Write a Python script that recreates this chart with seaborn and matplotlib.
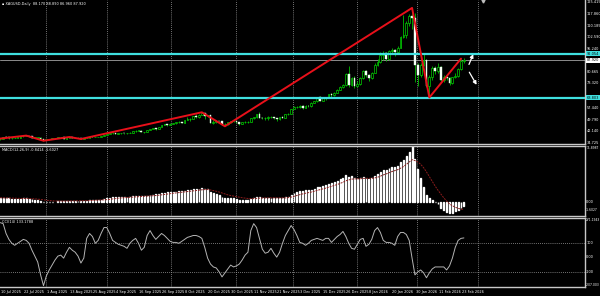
import matplotlib
matplotlib.use("Agg")
import matplotlib.pyplot as plt
import matplotlib.transforms as mtransforms
import numpy as np
import pandas as pd
import seaborn as sns

# ---------------- data ----------------
first_open = 37.0
close = [37.45, 38.40, 38.35, 37.75, 37.95, 38.15, 38.20, 38.95, 39.25, 39.30,
         39.00, 38.15, 38.15, 38.20, 37.10, 36.65, 37.05, 37.40, 37.80, 37.80,
         38.30, 38.30, 37.60, 37.95, 38.50, 38.00, 38.00, 38.10, 37.40, 38.00,
         38.20, 38.90, 38.60, 38.60, 38.60, 39.10, 39.70, 40.70, 40.90, 41.20,
         40.70, 41.00, 41.10, 40.90, 41.10, 41.30, 42.20, 42.60, 42.70, 41.70,
         41.70, 42.90, 43.90, 44.00, 43.90, 45.20, 46.40, 46.90, 46.40, 47.20,
         47.40, 48.00, 48.50, 47.90, 49.40, 50.00, 50.10, 52.20, 51.20, 53.00,
         54.10, 51.90, 52.50, 47.80, 48.50, 48.90, 48.60, 46.90, 47.00, 48.00,
         48.90, 48.70, 48.00, 46.90, 48.10, 48.10, 48.30, 50.50, 51.20, 53.40,
         50.90, 50.60, 50.90, 51.30, 51.50, 50.50, 50.00, 51.20, 51.10, 53.40,
         53.60, 56.40, 57.90, 58.00, 58.70, 57.20, 58.40, 58.30, 60.70, 61.50,
         64.20, 62.00, 63.90, 63.70, 66.00, 65.50, 67.10, 69.00, 71.00, 71.80,
         79.00, 72.00, 76.50, 71.50, 72.80, 76.50, 81.00, 78.30, 76.50, 79.80,
         85.00, 86.90, 91.50, 92.50, 88.50, 94.00, 94.70, 93.00, 96.00, 103.00,
         104.00, 112.00, 116.50, 115.00, 85.00, 78.50, 85.00, 87.80, 71.50, 77.50,
         83.00, 80.80, 83.60, 75.20, 77.50, 76.50, 73.50, 77.00, 78.00, 82.50,
         87.50, 87.90]
high = [37.6, 38.5, 39.1, 38.5, 38.1, 38.3, 38.4, 39.1, 39.4, 39.5,
        39.4, 39.0, 38.4, 38.4, 38.3, 37.2, 37.2, 37.5, 38.0, 38.0,
        38.5, 38.5, 38.4, 38.1, 38.6, 38.5, 38.2, 38.3, 38.2, 38.1,
        38.3, 39.0, 39.1, 38.8, 38.8, 39.2, 39.8, 40.8, 41.0, 41.5,
        41.3, 41.3, 41.3, 41.2, 41.3, 41.7, 42.3, 42.8, 42.9, 42.9,
        42.0, 43.0, 44.0, 44.4, 44.5, 45.3, 46.5, 47.1, 47.0, 47.4,
        47.7, 48.1, 48.7, 48.5, 49.6, 51.2, 51.0, 52.4, 53.6, 53.3,
        54.5, 54.3, 52.8, 52.6, 49.3, 49.8, 49.0, 48.7, 47.3, 48.5,
        49.2, 49.4, 48.9, 48.1, 48.3, 48.6, 48.7, 50.6, 51.5, 53.6,
        54.4, 51.6, 51.2, 51.8, 52.0, 51.6, 50.8, 51.4, 51.8, 53.6,
        54.0, 56.5, 58.8, 58.8, 59.0, 58.9, 59.3, 58.9, 60.9, 62.0,
        64.3, 65.0, 64.2, 64.5, 66.5, 67.0, 67.3, 69.5, 71.4, 72.7,
        79.5, 84.0, 77.5, 78.0, 74.5, 77.0, 81.8, 82.0, 79.0, 80.2,
        86.0, 89.0, 93.5, 93.6, 93.0, 94.7, 95.9, 95.5, 97.0, 103.5,
        117.0, 113.0, 117.8, 121.6, 118.5, 86.5, 86.5, 92.0, 88.5, 78.5,
        84.0, 84.5, 86.0, 84.5, 78.5, 77.8, 77.0, 77.5, 80.0, 83.0,
        89.0, 89.5]
low = [36.9, 37.4, 38.1, 37.6, 37.5, 37.8, 37.9, 38.1, 38.8, 39.0,
       38.8, 38.0, 37.9, 37.8, 37.0, 36.2, 36.5, 36.9, 37.3, 37.5,
       37.7, 38.0, 37.5, 37.5, 37.9, 37.9, 37.8, 37.8, 37.3, 37.3,
       37.9, 38.1, 38.5, 38.3, 38.4, 38.5, 39.0, 39.6, 40.5, 40.8,
       40.5, 40.6, 40.8, 40.7, 40.8, 41.0, 41.2, 42.1, 42.3, 41.5,
       41.3, 41.6, 42.8, 43.6, 43.3, 43.8, 45.0, 46.2, 45.8, 46.3,
       46.8, 47.2, 47.8, 47.6, 47.9, 49.3, 49.0, 50.0, 50.5, 51.1,
       52.8, 50.2, 51.6, 47.3, 46.9, 47.8, 47.9, 46.3, 45.5, 46.5,
       47.7, 48.2, 47.6, 46.3, 46.8, 47.7, 47.5, 48.2, 50.0, 50.8,
       50.5, 50.0, 49.8, 49.8, 50.8, 50.2, 48.6, 49.6, 50.5, 51.0,
       53.0, 53.5, 56.3, 57.0, 57.5, 56.5, 57.0, 57.6, 58.0, 60.5,
       61.3, 61.5, 61.8, 62.5, 63.5, 64.5, 65.0, 67.0, 68.8, 70.0,
       71.5, 70.5, 71.5, 70.0, 71.0, 72.0, 76.0, 77.0, 74.5, 76.0,
       79.5, 84.0, 86.5, 88.0, 87.5, 88.0, 92.0, 90.5, 92.0, 96.0,
       102.0, 102.5, 110.0, 108.0, 74.0, 71.5, 77.0, 84.0, 70.5, 64.0,
       75.5, 79.0, 79.5, 74.5, 74.0, 75.0, 72.0, 73.0, 76.5, 77.5,
       82.0, 86.0]
macd_main = [0.75, 0.75, 0.8, 0.75, 0.7, 0.7, 0.7, 0.7, 0.75, 0.75, 0.7, 0.6, 0.5, 0.4, 0.25, 0.1,
             0.05, 0.05, 0.05, 0.1, 0.15, 0.2, 0.2, 0.25, 0.3, 0.3, 0.3, 0.3, 0.25, 0.3, 0.3, 0.4,
             0.45, 0.45, 0.45, 0.5, 0.6, 0.75, 0.9, 1.0, 1.05, 1.1, 1.1, 1.1, 1.1, 1.1, 1.2, 1.3,
             1.35, 1.3, 1.3, 1.35, 1.45, 1.55, 1.6, 1.7, 1.85, 2.0, 2.05, 2.1, 2.15, 2.2, 2.3, 2.3,
             2.4, 2.5, 2.5, 2.7, 2.7, 2.85, 2.95, 2.8, 2.7, 2.2, 1.9, 1.7, 1.45, 1.1, 0.9, 0.8,
             0.8, 0.75, 0.65, 0.5, 0.5, 0.45, 0.45, 0.6, 0.75, 1.0, 1.0, 0.95, 0.95, 0.95, 0.95, 0.85,
             0.75, 0.8, 0.8, 1.0, 1.15, 1.5, 1.85, 2.1, 2.3, 2.35, 2.45, 2.45, 2.65, 2.85, 3.2, 3.25,
             3.5, 3.55, 3.9, 4.0, 4.25, 4.55, 4.9, 5.15, 5.8, 5.4, 5.55, 5.1, 4.95, 5.0, 5.3, 5.2,
             4.95, 5.0, 5.45, 5.85, 6.4, 6.85, 6.8, 7.2, 7.45, 7.45, 7.7, 8.4, 8.9, 9.8, 10.6, 11.9,
             9.2, 7.1, 5.0, 3.1, 1.5, 0.8, 0.4, 0.1, -0.5, -1.2, -1.7, -2.1, -2.3, -2.3, -2.0, -1.6,
             -1.2, -0.84]
macd_signal = [0.9, 0.88, 0.86, 0.84, 0.82, 0.8, 0.78, 0.76, 0.75, 0.75, 0.74, 0.71, 0.67, 0.62, 0.55, 0.46,
               0.38, 0.31, 0.26, 0.22, 0.21, 0.2, 0.2, 0.21, 0.23, 0.24, 0.25, 0.26, 0.26, 0.27, 0.28, 0.3,
               0.33, 0.36, 0.38, 0.4, 0.44, 0.5, 0.58, 0.66, 0.74, 0.81, 0.87, 0.92, 0.96, 0.99, 1.03, 1.08,
               1.13, 1.17, 1.2, 1.23, 1.27, 1.33, 1.38, 1.44, 1.52, 1.61, 1.7, 1.78, 1.86, 1.93, 2.01, 2.07,
               2.14, 2.21, 2.27, 2.36, 2.43, 2.51, 2.6, 2.64, 2.65, 2.56, 2.43, 2.29, 2.12, 1.92, 1.71, 1.53,
               1.38, 1.26, 1.13, 1.01, 0.91, 0.82, 0.75, 0.72, 0.73, 0.78, 0.83, 0.85, 0.87, 0.89, 0.9, 0.89,
               0.86, 0.85, 0.84, 0.87, 0.93, 1.04, 1.2, 1.38, 1.57, 1.73, 1.87, 1.99, 2.12, 2.27, 2.46, 2.62,
               2.8, 2.95, 3.14, 3.31, 3.5, 3.71, 3.95, 4.19, 4.51, 4.69, 4.86, 4.91, 4.92, 4.94, 5.01, 5.05,
               5.03, 5.03, 5.11, 5.26, 5.49, 5.76, 5.97, 6.22, 6.47, 6.67, 6.87, 7.18, 7.52, 7.98, 8.5, 9.0,
               8.8, 8.5, 8.0, 7.3, 6.4, 5.4, 4.4, 3.4, 2.5, 1.7, 0.9, 0.2, -0.4, -0.8, -1.1, -1.35,
               -1.5, -1.6027]
cci = [239, 232, 164, 123, 96, 82, 96, 109, 123, 116, 96, 48, 7, -34, -123, -198,
       -130, -89, -55, -20, 7, 14, -7, 34, 68, 48, 34, 7, -41, -7, 130, 164,
       143, 96, 116, 164, 205, 205, 164, 116, 102, 89, 82, 75, 61, 96, 116, 130,
       96, 48, 68, 150, 184, 150, 123, 143, 164, 150, 130, 109, 102, 102, 96, 109,
       123, 137, 143, 150, 150, 143, 130, 68, -7, -48, -68, -75, -102, -137, -109, -82,
       -55, -68, -61, -48, -20, 14, 34, 184, 232, 205, 130, 55, 27, 34, 61, 27,
       0, 34, 96, 150, 184, 219, 191, 150, 102, 96, 82, 96, 116, 123, 130, 123,
       116, 130, 130, 102, 123, 143, 157, 178, 143, 96, 61, 55, 89, 123, 130, 75,
       89, 123, 184, 205, 171, 116, 102, 102, 96, 82, 143, 171, 171, 157, 116, -7,
       -123, -102, -89, -109, -143, -109, -82, -68, -68, -68, -68, -89, -61, -7, 68, 116,
       130, 133.18]
date_labels = ["10 Jul 2025", "22 Jul 2025", "1 Aug 2025", "13 Aug 2025", "25 Aug 2025",
               "4 Sep 2025", "16 Sep 2025", "26 Sep 2025", "8 Oct 2025", "20 Oct 2025",
               "30 Oct 2025", "11 Nov 2025", "21 Nov 2025", "3 Dec 2025", "15 Dec 2025",
               "26 Dec 2025", "8 Jan 2026", "20 Jan 2026", "30 Jan 2026", "11 Feb 2026",
               "23 Feb 2026"]
zigzag_bar = [0, 9, 15, 24, 28, 70, 78, 143, 149, 160]
zigzag_val = [37.6, 39.5, 36.2, 38.6, 37.3, 54.5, 45.5, 121.6, 64.0, 89.0]
resistance = 92.054
support = 63.803
last_price = 87.920
price_ticks = [125.415, 117.860, 110.185, 102.590, 95.240, 80.665, 73.320,
               57.440, 49.790, 42.140, 34.725]
macd_ticks = [11.8987, 0.0, -1.6027]
macd_tick_labels = ["11.8987", "0.00", "-1.6027"]
cci_ticks = [271.1943, 100, 0, -100, -207.003]
cci_tick_labels = ["271.1943", "100", "0.00", "-100", "-207.003"]
header = "XAGUSD,Daily  88.170 88.890 86.960 87.920"
macd_title = "MACD(12,26,9) -0.8414 -1.6027"
cci_title = "CCI(14) 133.1788"

# ---------------- style ----------------
sns.set_theme(style="dark")
plt.rcParams["font.family"] = ["DejaVu Sans"]
FS = 2.5
FS_LONG = 2.2
GRID_C = "#9a9a9a"
SEP_C = "#c8c8c8"

W, H = 600, 296
AXR = 585
fig = plt.figure(figsize=(6, 2.96), dpi=100, facecolor="black")


def rect(top, bottom, left=0, right=AXR):
    return [left / W, 1 - bottom / H, (right - left) / W, (bottom - top) / H]


ax_p = fig.add_axes(rect(0, 144))
ax_m = fig.add_axes(rect(146, 216))
ax_c = fig.add_axes(rect(218, 287))

n = len(close)
bars = np.arange(n)
xlim = (-0.1, (AXR - 0.2) / 2.88)
grid_bars = [15.9, 37.1, 59.3, 81.9, 101.7, 123.9, 144.7, 165.9]

for ax in (ax_p, ax_m, ax_c):
    ax.set_facecolor("black")
    ax.set_xlim(*xlim)
    ax.set_xticks([])
    ax.set_yticks([])
    ax.grid(False)
    for s in ax.spines.values():
        s.set_color(SEP_C)
        s.set_linewidth(1.0)
    ax.spines["left"].set_visible(False)
    for gb in grid_bars:
        ax.axvline(gb, color=GRID_C, lw=0.6, ls=(0, (1, 1.5)), zorder=0.5)
ax_p.spines["top"].set_visible(False)

# ---------------- price panel ----------------
opens = [first_open] + close[:-1]
df = pd.DataFrame({"bar": bars, "open": opens, "close": close, "high": high, "low": low})
up = df["close"] >= df["open"]
ax_p.vlines(df["bar"], df["low"], df["high"], color="#00c000", lw=0.6, zorder=2)
body_lo = df[["open", "close"]].min(axis=1)
body_h = (df["close"] - df["open"]).abs().clip(lower=0.25)
ax_p.bar(df["bar"][up], body_h[up], bottom=body_lo[up], width=0.62,
         color="black", edgecolor="#00d000", linewidth=0.5, zorder=3)
ax_p.bar(df["bar"][~up], body_h[~up], bottom=body_lo[~up], width=0.62,
         color="white", edgecolor="#d8ffd8", linewidth=0.3, zorder=3)
ax_p.set_ylim(34.1, 126.7)

ax_p.axhline(resistance, color="#3fe0e0", lw=1.6, zorder=4)
ax_p.axhline(support, color="#3fe0e0", lw=1.6, zorder=4)
ax_p.axhline(last_price, color="#8c8c8c", lw=0.7, zorder=1)

sns.lineplot(x=zigzag_bar, y=zigzag_val, ax=ax_p, color="#e8101a", lw=1.4,
             zorder=5, legend=False)

# arrows (projection)
ax_p.annotate("", xy=(164.6, 93.6), xytext=(162.4, 83.6),
              arrowprops=dict(arrowstyle="-|>", color="white", lw=0.9, mutation_scale=5))
ax_p.annotate("", xy=(165.9, 70.6), xytext=(162.4, 81.8),
              arrowprops=dict(arrowstyle="-|>", color="white", lw=0.9, mutation_scale=5))

tr_p = mtransforms.blended_transform_factory(ax_p.transAxes, ax_p.transData)
for v in price_ticks:
    ax_p.text(1.003, v, f"{v:.3f}", transform=tr_p, color="white", fontsize=FS,
              va="center", ha="left", clip_on=False)
for v, fc in ((resistance, "#3fe0e0"), (support, "#3fe0e0"), (last_price, "white")):
    ax_p.text(1.003, v, f"{v:.3f}", transform=tr_p, color="black", fontsize=FS,
              va="center", ha="left", clip_on=False,
              bbox=dict(boxstyle="square,pad=0.15", fc=fc, ec="none"))
ax_p.text(0.004, 0.985, "\u25aa " + header, transform=ax_p.transAxes, color="white",
          fontsize=FS, va="top", ha="left")
ax_p.plot([167.5], [125.8], marker="v", color="#bbbbbb", ms=2.2)

# ---------------- MACD panel ----------------
sns.barplot(x=bars, y=macd_main, native_scale=True, ax=ax_m, color="#d0d0d0",
            width=0.32, errorbar=None, saturation=1, zorder=2)
sns.lineplot(x=bars, y=macd_signal, ax=ax_m, color="#8a1c1c", lw=0.7, zorder=3,
             legend=False, linestyle=(0, (2, 1)))
ax_m.set_xlim(*xlim)
ax_m.set_ylim(-2.97, 11.8987)
ax_m.set_xlabel("")
ax_m.set_ylabel("")
ax_m.set_xticks([])
ax_m.set_yticks([])
tr_m = mtransforms.blended_transform_factory(ax_m.transAxes, ax_m.transData)
for k, (v, lab) in enumerate(zip(macd_ticks, macd_tick_labels)):
    ax_m.text(1.002, v, lab, transform=tr_m, color="white",
              fontsize=FS_LONG if len(lab) > 6 else FS,
              va="top" if k == 0 else "center", ha="left", clip_on=False)
ax_m.text(0.004, 0.97, macd_title, transform=ax_m.transAxes, color="white",
          fontsize=FS, va="top", ha="left")

# ---------------- CCI panel ----------------
sns.lineplot(x=bars, y=cci, ax=ax_c, color="#b4b4b4", lw=0.7, zorder=3, legend=False)
ax_c.set_ylim(-207.003, 271.1943)
ax_c.set_xlim(*xlim)
ax_c.set_xlabel("")
ax_c.set_ylabel("")
ax_c.set_xticks([])
ax_c.set_yticks([])
for lvl in (100, -100):
    ax_c.axhline(lvl, color=GRID_C, lw=0.6, ls=(0, (1, 1.5)), zorder=0.5)
tr_c = mtransforms.blended_transform_factory(ax_c.transAxes, ax_c.transData)
for k, (v, lab) in enumerate(zip(cci_ticks, cci_tick_labels)):
    va = "top" if k == 0 else ("bottom" if k == len(cci_ticks) - 1 else "center")
    ax_c.text(1.002, v, lab, transform=tr_c, color="white",
              fontsize=FS_LONG if len(lab) > 6 else FS,
              va=va, ha="left", clip_on=False)
ax_c.text(0.004, 0.97, cci_title, transform=ax_c.transAxes, color="white",
          fontsize=FS, va="top", ha="left")

# date labels
tr_d = mtransforms.blended_transform_factory(ax_c.transData, ax_c.transAxes)
for i, lab in enumerate(date_labels):
    ax_c.text(i * 8 + 0.2, -0.05, lab, transform=tr_d, color="white", fontsize=FS,
              va="top", ha="left", clip_on=False)

fig.savefig("out.png", dpi=100, facecolor="black")
